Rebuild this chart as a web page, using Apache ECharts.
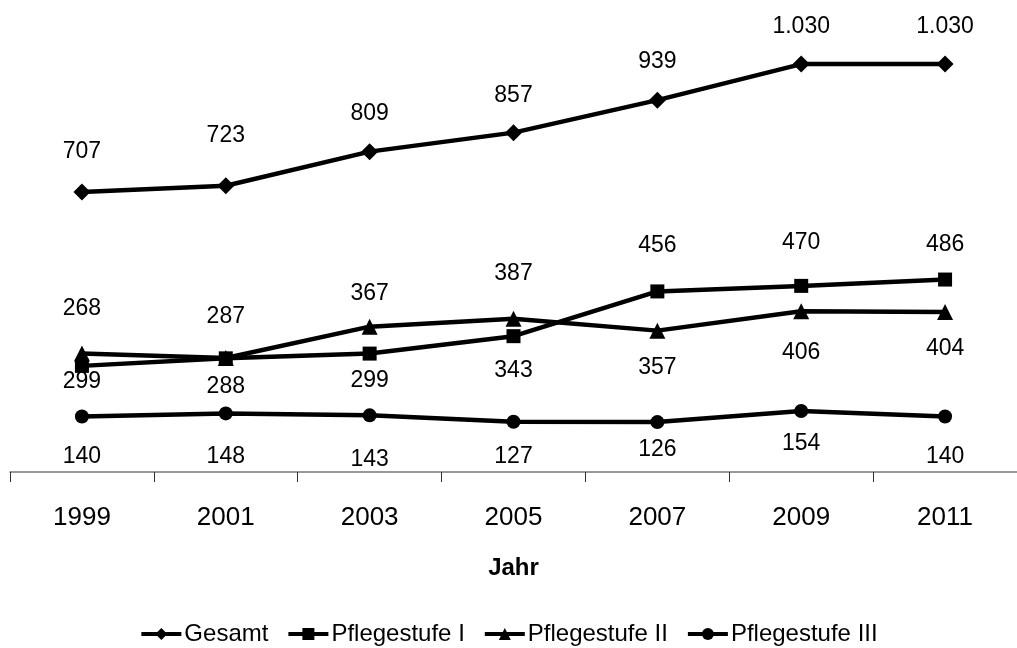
<!DOCTYPE html>
<html>
<head>
<meta charset="utf-8">
<script src="https://cdn.jsdelivr.net/npm/echarts@6/dist/echarts.min.js"></script>
<style>
  html, body { margin: 0; padding: 0; background: #fff; }
  #chart { width: 1017px; height: 648px; }
</style>
</head>
<body>
<div id="chart"></div>
<script>
// Daten
var years = ['1999', '2001', '2003', '2005', '2007', '2009', '2011'];
var gesamt = [707, 723, 809, 857, 939, 1030, 1030];
var stufe1 = [268, 287, 299, 343, 456, 470, 486];
var stufe2 = [299, 288, 367, 387, 357, 406, 404];
var stufe3 = [140, 148, 143, 127, 126, 154, 140];

// label offsets (vertical, px) as in the original
var offGesamt = [-40, -50, -38, -37, -38, -37, -37];
var offStufe1 = [-57, -42, 27, 34, -46, -43, -35];
var offStufe2 = [28, 29, -33, -45, 37, 41, 37];
var offStufe3 = [40, 43, 44, 35, 28, 33, 40];

var FONT = '"Liberation Sans", Arial, sans-serif';

function fmt(v) {
  return v.toLocaleString('de-DE');
}

function items(vals, offs) {
  return vals.map(function (v, i) {
    return { value: v, label: { offset: [0, offs[i]] } };
  });
}

function mkSeries(name, vals, offs, symbol, size) {
  return {
    name: name,
    type: 'line',
    data: items(vals, offs),
    symbol: symbol,
    symbolSize: size,
    showAllSymbol: true,
    lineStyle: { color: '#000', width: 4.5 },
    itemStyle: { color: '#000' },
    label: {
      show: true,
      position: 'inside',
      color: '#000',
      fontSize: 23,
      fontFamily: FONT,
      formatter: function (p) { return fmt(p.value); }
    },
    emphasis: { disabled: true },
    animation: false
  };
}

var chart = echarts.init(document.getElementById('chart'));
chart.setOption({
  backgroundColor: '#fff',
  grid: { left: 10, top: 36.4, width: 1011.5, bottom: 176 },
  legend: {
    top: 617,
    left: 'center',
    itemWidth: 40,
    itemHeight: 15,
    itemGap: 18,
    lineStyle: { width: 4, color: '#000' },
    textStyle: { color: '#000', fontSize: 24, fontFamily: FONT, padding: [0, 0, 0, -2] },
    data: ['Gesamt', 'Pflegestufe I', 'Pflegestufe II', 'Pflegestufe III']
  },
  xAxis: {
    type: 'category',
    data: years,
    boundaryGap: true,
    name: 'Jahr',
    nameLocation: 'middle',
    nameGap: 84,
    nameTextStyle: { color: '#000', fontSize: 24, fontWeight: 'bold', fontFamily: FONT },
    axisLine: { lineStyle: { color: '#777', width: 1.5 } },
    axisTick: { show: true, length: 10, lineStyle: { color: '#333' } },
    axisLabel: { color: '#000', fontSize: 26, margin: 33, fontFamily: FONT }
  },
  yAxis: {
    type: 'value',
    min: 0,
    max: 1100,
    show: false
  },
  series: [
    mkSeries('Gesamt', gesamt, offGesamt, 'diamond', 17),
    mkSeries('Pflegestufe I', stufe1, offStufe1, 'rect', 14),
    mkSeries('Pflegestufe II', stufe2, offStufe2, 'triangle', 16),
    mkSeries('Pflegestufe III', stufe3, offStufe3, 'circle', 14)
  ]
});
</script>
</body>
</html>
